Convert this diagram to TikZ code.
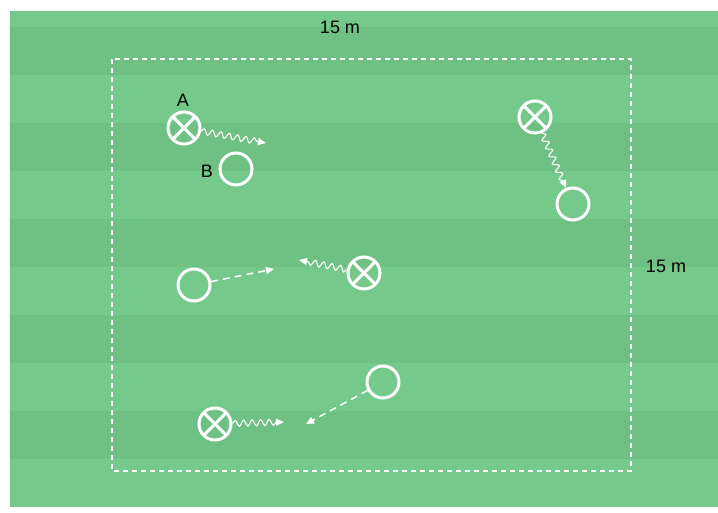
\documentclass[tikz,border=0pt]{standalone}
\usepackage{fontspec}
\setmainfont{Liberation Sans}
\usetikzlibrary{arrows.meta,decorations.pathmorphing}
\definecolor{grasslight}{RGB}{117,202,139}
\definecolor{grassdark}{RGB}{110,193,131}
\tikzset{
  attacker/.style={circle,draw=white,line width=3pt,minimum size=32pt,inner sep=0pt},
  defender/.style={attacker,path picture={
      \draw[white,line width=3pt]
        (path picture bounding box.north west)--(path picture bounding box.south east)
        (path picture bounding box.north east)--(path picture bounding box.south west);}},
  dribble/.style={white,line width=1.1pt,decorate,
      decoration={snake,amplitude=3pt,segment length=8.5pt,post length=6pt},
      -{Triangle[length=8pt,width=7pt]}},
  pass/.style={white,line width=1.5pt,dash pattern=on 7pt off 5pt,
      -{Triangle[length=8pt,width=7pt]}},
  tag/.style={font=\fontsize{18}{21}\selectfont,text=black,inner sep=0pt}
}
\begin{document}
\begin{tikzpicture}[x=1pt,y=-1pt]
  \useasboundingbox (0,0) rectangle (718,513);
  % pitch
  \fill[grasslight] (10,11) rectangle (718,507);
  \foreach \y in {27,123,219,315,411}
    \fill[grassdark] (10,\y) rectangle (718,\y+48);
  \draw[white,line width=1.6pt,dash pattern=on 5pt off 4pt] (112,59) rectangle (631,471);
  \node[tag] (top) at (340,27) {15 m};
  \node[tag] (side) at (666,266) {15 m};

  % A and B
  \node[defender] (A) at (184,128) {};
  \node[tag] (labA) at (183,100) {A};
  \node[attacker] (B) at (236,169) {};
  \node[tag] (labB) at (207,171) {B};
  \coordinate (Arun) at (266,143);
  \draw[dribble] (A) -- (Arun);

  % top right
  \node[defender] (D1) at (535,117) {};
  \node[attacker] (P1) at (573,204) {};
  \draw[dribble] (D1) -- (P1);

  % middle
  \node[attacker] (P2) at (194,285) {};
  \node[defender] (D2) at (364,273) {};
  \coordinate (P2pass) at (274,269);
  \coordinate (D2run) at (299,260);
  \draw[pass] (P2) -- (P2pass);
  \draw[dribble] (D2) -- (D2run);

  % bottom
  \node[defender] (D3) at (215,424) {};
  \node[attacker] (P3) at (383,382) {};
  \coordinate (D3run) at (284,422);
  \coordinate (P3pass) at (306,424);
  \draw[dribble] (D3) -- (D3run);
  \draw[pass] (P3) -- (P3pass);
\end{tikzpicture}
\end{document}
